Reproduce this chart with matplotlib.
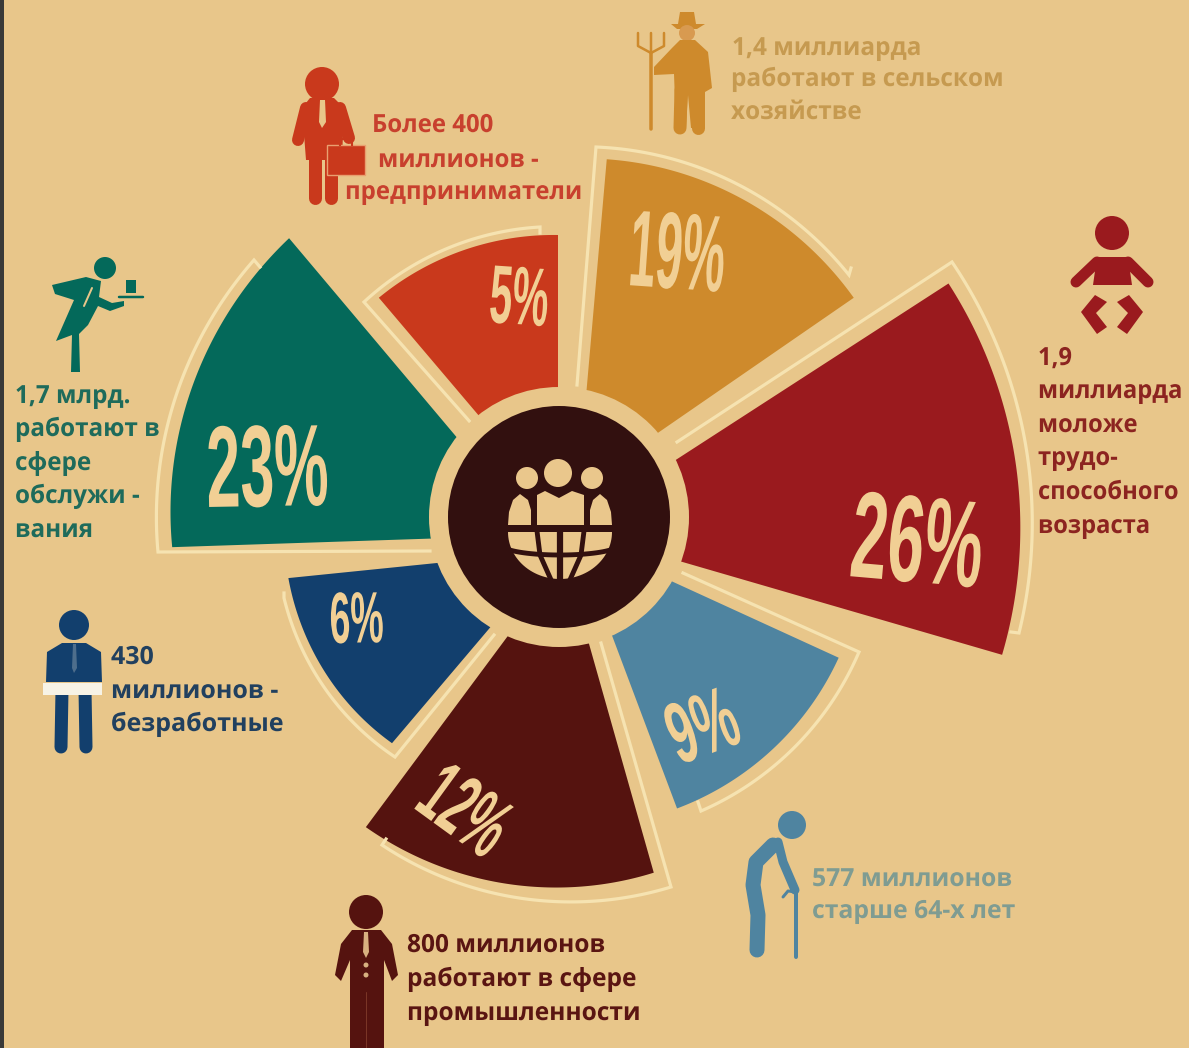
import numpy as np
import matplotlib
matplotlib.use("Agg")
import matplotlib.pyplot as plt
from matplotlib.patches import Circle, Rectangle, Polygon
from matplotlib.patheffects import AbstractPathEffect
from matplotlib.transforms import Affine2D

# values
shares = [26, 19, 5, 23, 6, 12, 9]
share_labels = ["26%", "19%", "5%", "23%", "6%", "12%", "9%"]
colors = ["#9A1A1E", "#CE8A2C", "#C9391C", "#04695A", "#123F6D", "#55130F", "#4F84A0"]
# sector angles (deg) and radii at both ends
theta_start = [-16.2, 34.6, 90.0, 130.1, 185.8, 233.4, -69.4]
theta_end = [32.9, 85.0, 130.3, 181.9, 229.7, 285.8, -24.6]
radius_start = [451, 335, 274, 388, 268, 334, 290]
radius_end = [452, 330, 277, 367, 252, 326, 290]
apex_x = [569, 578, 558, 539, 555, 565, 575]
apex_y = [529, 488, 509, 535, 551, 559, 537]

BG = "#E8C68A"
CREAM = "#F6E3B1"
LABEL = "#F1CF94"
DARK = "#32100F"
CX, CY = 559, 517

fig = plt.figure(figsize=(11.89, 10.48), dpi=100, facecolor=BG)
ax = fig.add_axes([0, 0, 1, 1])
ax.set_xlim(0, 1189)
ax.set_ylim(1048, 0)
ax.axis("off")


class Squeeze(AbstractPathEffect):
    # narrows a text horizontally, the fonts here have no condensed cut
    def __init__(self, sx):
        super().__init__()
        self.sx = sx

    def draw_path(self, renderer, gc, tpath, affine, rgbFace=None):
        renderer.draw_path(gc, tpath, Affine2D().scale(self.sx, 1) + affine, rgbFace)


def polar_pts(x0, y0, t, r):
    t = np.radians(t)
    return x0 + r * np.cos(t), y0 - r * np.sin(t)


# -----------------------------
# Sectors
# -----------------------------
for i in range(len(shares)):
    t = np.linspace(theta_start[i], theta_end[i], 90)
    r = np.linspace(radius_start[i], radius_end[i], 90)
    xs, ys = polar_pts(apex_x[i], apex_y[i], t, r)
    ax.fill(np.r_[apex_x[i], xs], np.r_[apex_y[i], ys], color=colors[i], lw=0, zorder=2)

ax.add_patch(Circle((CX, CY), 130, color=BG, lw=0, zorder=3))
ax.add_patch(Circle((CX, CY), 111, color=DARK, lw=0, zorder=4))


# -----------------------------
# Cream strips next to the sectors
# -----------------------------
def strip(i, start, tip, end, tick):
    x0, y0 = apex_x[i], apex_y[i]
    a = np.arctan2(y0 - tip[1], tip[0] - x0)
    b = np.arctan2(y0 - end[1], end[0] - x0)
    if b - a > np.pi:
        b -= 2 * np.pi
    if a - b > np.pi:
        b += 2 * np.pi
    ra = np.hypot(tip[0] - x0, tip[1] - y0)
    rb = np.hypot(end[0] - x0, end[1] - y0)
    t = np.linspace(a, b, 60)
    r = np.linspace(ra, rb, 60)
    xs = x0 + r * np.cos(t)
    ys = y0 - r * np.sin(t)
    ax.plot(np.r_[start[0], xs, tick[0]], np.r_[start[1], ys, tick[1]], color=CREAM, lw=2.3,
            solid_joinstyle="miter", zorder=2.5)


strip(0, (677, 442), (952, 262), (1019, 633), (1011, 632))
strip(1, (577, 385), (596, 147), (849, 275), (851, 268))
strip(2, (471, 423), (364, 302), (540, 227), (540, 233))
strip(3, (430, 551), (158, 552), (254, 260), (260, 267))
strip(4, (494, 635), (395, 757), (284, 598), (284, 593))
strip(5, (601, 643), (671, 887), (382, 845), (386, 839))
strip(6, (683, 573), (859, 652), (701, 811), (698, 802))

# -----------------------------
# Percent labels
# -----------------------------
label_x = [848, 627, 488, 207, 330, 412, 679]
label_y = [576, 285, 322, 507, 643, 807, 765]
label_h = [85, 75, 57, 80, 50, 60, 60]
label_w = [132, 96, 59, 122, 54, 90, 70]
label_rot = [-5, -4, -4, 1, 1, -36, 20]
for i, s in enumerate(share_labels):
    px = label_h[i] / 0.69
    natural = (2.0 if len(s) == 3 else 1.445) * px
    ax.text(label_x[i], label_y[i], s, fontsize=px * 0.72, family="Liberation Sans", weight="bold",
            color=LABEL, ha="left", va="baseline", rotation=label_rot[i], rotation_mode="anchor",
            path_effects=[Squeeze(label_w[i] / natural)], zorder=6)

# -----------------------------
# Captions
# -----------------------------
text_blocks = [
    ("#C69A50", 0.975, [(732, 55, "1,4 миллиарда"), (731, 86, "работают в сельском"), (731, 119, "хозяйстве")]),
    ("#C8402E", 0.96, [(372, 132, "Более 400"), (378, 167, "миллионов -"), (345, 199, "предприниматели")]),
    ("#8C2420", 0.95, [(1038, 365, "1,9"), (1038, 398, "миллиарда"), (1038, 432, "моложе"),
                       (1038, 465, "трудо-"), (1038, 499, "способного"), (1038, 533, "возраста")]),
    ("#1E6B5B", 0.97, [(15, 403, "1,7 млрд."), (15, 436, "работают в"), (15, 470, "сфере"),
                       (15, 503, "обслужи -"), (15, 537, "вания")]),
    ("#21405F", 1.0, [(111, 664, "430"), (111, 698, "миллионов -"), (111, 731, "безработные")]),
    ("#7F9C92", 0.99, [(812, 886, "577 миллионов"), (812, 918, "старше 64-х лет")]),
    ("#5A1512", 0.98, [(407, 952, "800 миллионов"), (407, 986, "работают в сфере"), (407, 1020, "промышленности")]),
]
for col, sx, lines in text_blocks:
    for x, y, s in lines:
        ax.text(x, y, s, fontsize=18, family="Open Sans", weight="bold", color=col,
                ha="left", va="baseline", zorder=6, path_effects=[Squeeze(sx)])


# -----------------------------
# Icons
# -----------------------------
def limb(pts, col, w, z=5):
    xs, ys = zip(*pts)
    ax.plot(xs, ys, color=col, lw=w * 0.72, solid_capstyle="round", solid_joinstyle="round", zorder=z)


def poly(pts, col, z=5):
    ax.add_patch(Polygon(pts, closed=True, color=col, lw=0, zorder=z))


def head(x, y, r, col):
    ax.add_patch(Circle((x, y), r, color=col, lw=0, zorder=5))


# businessman
c = "#C9391C"
head(322, 84, 17, c)
poly([(310, 98), (334, 98), (344, 108), (342, 160), (306, 160), (302, 108)], c)
limb([(306, 108), (298, 140)], c, 12)
limb([(340, 108), (349, 138)], c, 12)
limb([(315, 155), (315, 198)], c, 13)
limb([(331, 155), (331, 198)], c, 13)
poly([(320, 100), (325, 100), (326, 122), (322, 128), (319, 122)], BG, 5.5)
ax.add_patch(Rectangle((327, 145), 38, 30, facecolor=c, edgecolor="#E9A070", lw=1, zorder=5.5))
ax.plot([340, 340, 352, 352], [145, 139, 139, 145], color=c, lw=1.5, zorder=5.5)

# farmer
c = "#CE8A2C"
poly([(680, 12), (694, 12), (696, 24), (705, 24), (697, 29), (677, 29), (671, 24), (678, 24)], c)
head(687, 33, 8, "#D89A50")
poly([(680, 40), (695, 40), (708, 52), (712, 88), (705, 92), (703, 128), (691, 128), (688, 95),
      (686, 128), (676, 128), (674, 74), (654, 75), (654, 67), (672, 48)], c)
limb([(681, 90), (680, 128)], c, 13)
limb([(698, 90), (698, 128)], c, 13)
limb([(651, 52), (651, 129)], c, 3.5)
limb([(638, 33), (638, 46), (651, 53), (664, 46), (664, 33)], c, 2.5)
limb([(651, 33), (651, 52)], c, 2.5)

# baby
c = "#9A1A1E"
head(1112, 233, 17, c)
poly([(1097, 257), (1128, 257), (1132, 285), (1093, 285)], c)
limb([(1097, 262), (1076, 282)], c, 11)
limb([(1128, 262), (1148, 282)], c, 11)
for sign in (-1, 1):
    poly([(1112 + sign * x, y) for x, y in [(17, 295), (31, 312), (15, 334), (5, 327), (16, 313), (5, 302)]], c)

# waiter
c = "#04695A"
head(105, 268, 11, c)
poly([(52, 285), (86, 277), (101, 281), (99, 297), (112, 303), (124, 301), (124, 306), (110, 311),
      (98, 306), (88, 325), (79, 334), (80, 372), (71, 372), (72, 335), (56, 341), (74, 300), (55, 294)], c)
limb([(119, 297), (143, 297)], c, 2.5)
ax.add_patch(Rectangle((126, 280), 10, 13, color=c, lw=0, zorder=5))
limb([(92, 288), (84, 306)], BG, 2, 5.5)

# unemployed man
c = "#123F6D"
head(74, 625, 15, c)
poly([(62, 643), (86, 643), (101, 652), (102, 682), (46, 682), (47, 652)], c)
limb([(62, 690), (61, 747)], c, 13)
limb([(85, 690), (86, 747)], c, 13)
poly([(73, 644), (76, 644), (77, 668), (74, 673), (72, 668)], "#4E6E8C", 5.5)
ax.add_patch(Rectangle((43, 683), 59, 12, color="#F7F3E6", lw=0, zorder=5.5))

# factory worker
c = "#55130F"
head(366, 912, 17, c)
poly([(352, 930), (381, 930), (392, 944), (398, 975), (392, 981), (384, 960), (384, 1048), (350, 1048),
      (350, 960), (341, 981), (335, 975), (341, 944)], c)
limb([(366, 992), (366, 1048)], "#7A3526", 1, 5.5)
poly([(364, 932), (368, 932), (369, 952), (366, 958), (363, 952)], "#D8B080", 5.5)
for y in (965, 975):
    ax.add_patch(Circle((366, y), 2.5, color="#D8B080", lw=0, zorder=5.5))

# old man
c = "#4F84A0"
head(792, 825, 14, c)
limb([(773, 845), (756, 862), (753, 885), (758, 915), (757, 950)], c, 15)
limb([(778, 842), (783, 862), (795, 890)], c, 9)
limb([(796, 892), (796, 957)], c, 4)
limb([(783, 897), (788, 891), (796, 892)], c, 3)

# globe with people in the middle
c = "#EAC78C"
ax.add_patch(Circle((558, 473), 14, color=c, lw=0, zorder=5))
for x in (527, 592):
    ax.add_patch(Circle((x, 478), 11, color=c, lw=0, zorder=5))
poly([(537, 495), (545, 491), (559, 498), (572, 491), (584, 495), (584, 525), (537, 525)], c)
poly([(509, 512), (513, 500), (520, 494), (528, 500), (531, 510), (531, 525), (508, 525)], c)
poly([(590, 510), (593, 500), (600, 494), (607, 500), (611, 512), (612, 525), (590, 525)], c)
t = np.linspace(180, 360, 60)
gx = 560 + 52 * np.cos(np.radians(t))
gy = 532 - 47 * np.sin(np.radians(t))
ax.fill(gx, gy, color=c, lw=0, zorder=5)
t = np.linspace(0, 180, 40)
ax.plot(560 + 58 * np.cos(np.radians(t)), 545 + 10 * np.sin(np.radians(t)), color=DARK, lw=3.5, zorder=5.5)
ax.plot([560, 560], [531, 582], color=DARK, lw=4.5, zorder=5.5)
ax.plot([537, 540, 552], [531, 555, 582], color=DARK, lw=3.5, zorder=5.5)
ax.plot([584, 581, 569], [531, 555, 582], color=DARK, lw=3.5, zorder=5.5)

# dark edge of the page on the left
ax.add_patch(Rectangle((0, 0), 4, 1048, color="#3A3A38", lw=0, zorder=7))

fig.savefig("out.png", dpi=100, facecolor=BG)
plt.close()
